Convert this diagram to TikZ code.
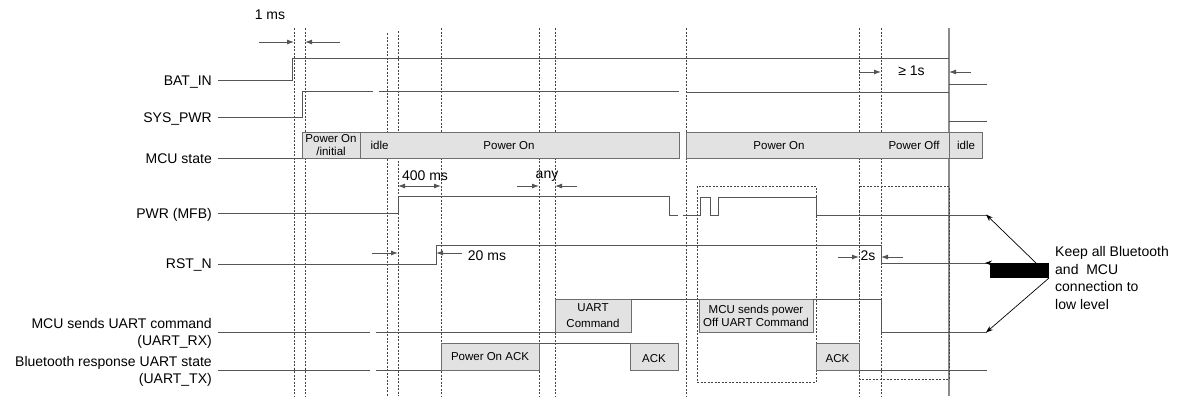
\documentclass[tikz,border=0pt]{standalone}
\usepackage{fontspec}
\setmainfont{Liberation Sans}
\usetikzlibrary{arrows.meta}
\definecolor{sigc}{HTML}{555555}
\definecolor{boxf}{HTML}{E2E2E2}
\definecolor{boxd}{HTML}{6E6E6E}
\definecolor{dashc}{HTML}{444444}
\definecolor{solidv}{HTML}{8A8A8A}
\begin{document}
\begin{tikzpicture}[x=1pt,y=-1pt,
  sig/.style={draw=sigc, line width=1pt},
  vdash/.style={draw=dashc, line width=0.6pt, dash pattern=on 2pt off 1.5pt},
  stbox/.style={draw=boxd, fill=boxf, line width=1pt},
  lab/.style={anchor=base east, font=\fontsize{14}{17}\selectfont, inner sep=0pt},
  dimtxt/.style={anchor=base, font=\fontsize{14}{17}\selectfont, inner sep=0pt},
  keeptxt/.style={anchor=base west, font=\fontsize{14}{17}\selectfont, inner sep=0pt},
  btxt/.style={font=\fontsize{11.5}{13}\selectfont, align=center, inner sep=0pt},
  dimarr/.style={draw=sigc, line width=0.9pt, -{Latex[length=7pt,width=5pt]}},
  dimboth/.style={draw=sigc, line width=0.9pt, {Latex[length=7pt,width=5pt]}-{Latex[length=7pt,width=5pt]}},
  notearr/.style={draw=black, line width=0.7pt, -{Stealth[length=7pt,width=5pt]}}
]
\useasboundingbox (0,0) rectangle (1180,397);

% vertical time markers
\foreach \x/\t in {294/28,305/28,387/33,398/31,441/28,539/28,555/28,686/28,859/28,881/28}
  \draw[vdash] (\x,\t) -- (\x,396);
\draw[draw=solidv, line width=1.3pt] (949,28) -- (949,396);

% dashed frames
\draw[vdash] (697,186) rectangle (816,382);
\draw[vdash] (859,186) rectangle (949,379);

% labels
\node[lab] (lbat) at (212,85) {BAT\_IN};
\node[lab] (lsys) at (212,122) {SYS\_PWR};
\node[lab] (lmcu) at (212,163.5) {MCU state};
\node[lab] (lpwr) at (212,218.5) {PWR (MFB)};
\node[lab] (lrst) at (212,268.5) {RST\_N};
\node[lab] (lrx1) at (212,328) {MCU sends UART command};
\node[lab] (lrx2) at (212,345.5) {(UART\_RX)};
\node[lab] (ltx1) at (212,366) {Bluetooth response UART state};
\node[lab] (ltx2) at (212,383) {(UART\_TX)};

% BAT_IN
\draw[sig] (218,80) -- (292,80) -- (292,58) -- (949,58);
\draw[sig] (949,84) -- (987,84);
% SYS_PWR
\draw[sig] (218,117) -- (302,117) -- (302,91) -- (373,91);
\draw[sig] (379,91) -- (679,91);
\draw[sig] (686,92) -- (949,92);
\draw[sig] (949,121) -- (987,121);

% MCU state
\draw[sig] (218,158) -- (302,158);
\path[stbox] (302,132) rectangle (360,158);
\path[stbox] (360,132) rectangle (679,158);
\path[stbox] (686,132) rectangle (949,158);
\path[stbox] (949,132) rectangle (982,158);
\node[btxt] (sA) at (331,145) {Power On\\/initial};
\node[btxt] (sB) at (379.5,145.5) {idle};
\node[btxt] (sC) at (509,145.5) {Power On};
\node[btxt] (sD) at (779,145.5) {Power On};
\node[btxt] (sE) at (914,145.5) {Power Off};
\node[btxt] (sF) at (966,145.5) {idle};

% PWR (MFB)
\draw[sig] (218,213) -- (398,213) -- (398,196) -- (669,196) -- (669,215) -- (678,215);
\draw[sig] (683,215) -- (700,215) -- (700,197) -- (710,197) -- (710,215) -- (718,215)
  -- (718,197) -- (816,197) -- (816,215) -- (987,215);

% RST_N
\draw[sig] (218,264) -- (436,264) -- (436,245) -- (881,245) -- (881,263) -- (987,263);

% UART_RX
\draw[sig] (218,332) -- (370,332);
\draw[sig] (376,332) -- (555,332);
\path[stbox] (555,299) rectangle (631,332);
\draw[sig] (631,299) -- (699,299);
\path[stbox] (699,299) rectangle (813,332);
\draw[sig] (813,299) -- (881,299) -- (881,332) -- (987,332);
\node[btxt, font=\fontsize{11.5}{16}\selectfont] (rxA) at (593,315.5) {UART\\Command};
\node[btxt] (rxB) at (756,315.5) {MCU sends power\\Off UART Command};

% UART_TX
\draw[sig] (218,370) -- (370,370);
\draw[sig] (376,370) -- (441,370);
\path[stbox] (441,343) rectangle (539,370);
\draw[sig] (539,343) -- (630,343);
\path[stbox] (630,343) rectangle (678,370);
\path[stbox] (816,343) rectangle (859,370);
\draw[sig] (859,370) -- (987,370);
\node[btxt] (txA) at (490,357) {Power On ACK};
\node[btxt] (txB) at (654,359) {ACK};
\node[btxt] (txC) at (837.5,358.5) {ACK};

% dimensions
\node[dimtxt] (d1ms) at (270,19.5) {1 ms};
\draw[dimarr] (259,42) -- (294,42);
\draw[dimarr] (340,42) -- (305,42);

\node[dimtxt] (d1s) at (911.5,75.5) {≥ 1s};
\draw[dimarr] (859,72) -- (881,72);
\draw[dimarr] (971,72) -- (949,72);

\node[dimtxt] (d400) at (425,180.7) {400 ms};
\draw[dimboth] (398,186) -- (441,186);

\node[dimtxt] (dany) at (547,178) {any};
\draw[dimarr] (517,186) -- (539,186);
\draw[dimarr] (577,186) -- (555,186);

\draw[dimarr] (372,253) -- (398,253);
\node[dimtxt] (d20) at (487,260) {20 ms};
\draw[dimarr] (462,253) -- (436,253);

\node[dimtxt] (d2s) at (868,260) {2s};
\draw[dimarr] (838,257) -- (859,257);
\draw[dimarr] (903,257) -- (881,257);

% note
\node[keeptxt] (k1) at (1055,256.5) {Keep all Bluetooth};
\node[keeptxt] (k2) at (1055,274) {and\ \ MCU};
\node[keeptxt] (k3) at (1055,291.5) {connection to};
\node[keeptxt] (k4) at (1055,309) {low level};

\coordinate (blkA) at (990,263);
\coordinate (blkB) at (1049,278);
\fill[black] (blkA) rectangle (blkB);
\coordinate (rstEnd) at (985,263);
\draw[notearr] (1002,263) -- (rstEnd);
\coordinate (pwrEnd) at (986,214.5);
\coordinate (rxEnd) at (986,332.5);
\draw[notearr] (1036,263) -- (pwrEnd);
\draw[notearr] (1049,278) -- (rxEnd);
\end{tikzpicture}
\end{document}
